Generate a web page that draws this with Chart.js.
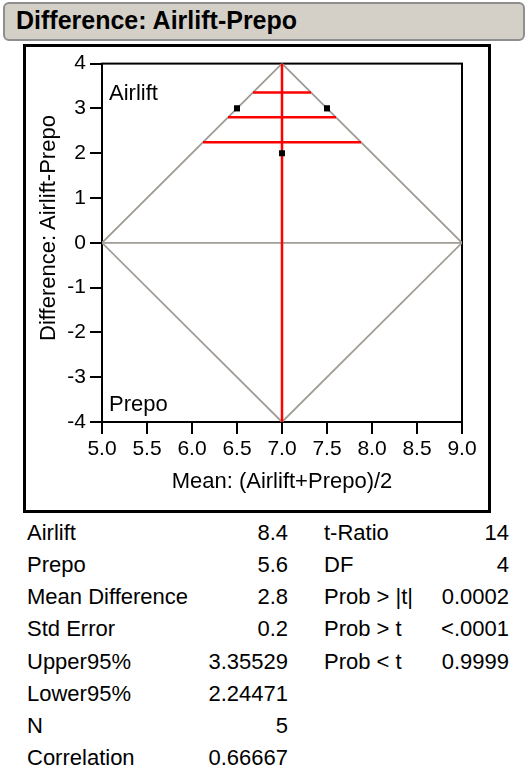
<!DOCTYPE html>
<html>
<head>
<meta charset="utf-8">
<script src="https://cdn.jsdelivr.net/npm/chart.js@4.4.1/dist/chart.umd.min.js"></script>
<style>
body { margin: 0; background: #fff; font-family: "Liberation Sans", Arial, sans-serif; color: #000; }
#head { position: absolute; left: 3px; top: 2px; width: 518px; height: 35px; background: #d4d0c8;
        border: 2px solid #8e8e8e; border-radius: 6px; }
#head span { position: absolute; left: 11px; top: 2px; font-weight: bold; font-size: 25px; }
#frame { position: absolute; left: 23px; top: 44px; width: 462px; height: 463px; border: 3px solid #000; }
#frame canvas { position: absolute; left: 0; top: 0; }
#ytitle { position: absolute; left: -102px; top: 216px; width: 300px; height: 24px; line-height: 24px;
          text-align: center; font-size: 22px; transform: rotate(-90deg); }
.st { position: absolute; font-size: 22px; line-height: 32.15px; white-space: nowrap; }
</style>
</head>
<body>
<div id="head"><span>Difference: Airlift-Prepo</span></div>
<div id="frame"><canvas id="pairChart" width="462" height="463"></canvas></div>
<div id="ytitle">Difference: Airlift-Prepo</div>
<div id="stats"></div>
<script>
// Данные: среднее пары и разность Airlift-Prepo
const meanXs = [6.5, 6.5, 7.5, 7.5, 7.0];
const diffYs = [3, 3, 3, 3, 2];
const meanDiff = 2.8;
const upper95 = 3.35529;
const lower95 = 2.24471;
const grandMean = 7.0;

// Повёрнутая рамка (ромб) и линия нуля
const diamondX = [5, 7, 9, 7, 5];
const diamondY = [0, 4, 0, -4, 0];
const xRange = [5, 9];
const yRange = [-4, 4];

// Таблица под графиком
const leftLabels = ['Airlift', 'Prepo', 'Mean Difference', 'Std Error', 'Upper95%', 'Lower95%', 'N', 'Correlation'];
const leftValues = ['8.4', '5.6', '2.8', '0.2', '3.35529', '2.24471', '5', '0.66667'];
const rightLabels = ['t-Ratio', 'DF', 'Prob > |t|', 'Prob > t', 'Prob < t'];
const rightValues = ['14', '4', '0.0002', '<.0001', '0.9999'];

const gray = '#a19c95';
const red = '#ff0000';

// Горизонтальная линия от одной стороны ромба до другой
function ciLine(y) {
    const half = (xRange[1] - xRange[0]) / 2 * (1 - Math.abs(y) / yRange[1]);
    return [{ x: grandMean - half, y: y }, { x: grandMean + half, y: y }];
}

function lineSet(data, color, width) {
    return { data: data, showLine: true, borderColor: color, borderWidth: width,
             pointRadius: 0, pointHoverRadius: 0, fill: false };
}

const frameBox = {
    id: 'frameBox',
    beforeDatasetsDraw(chart) {
        const { ctx, chartArea: a } = chart;
        ctx.save();
        ctx.strokeStyle = '#000';
        ctx.lineWidth = 2;
        ctx.strokeRect(a.left, a.top, a.right - a.left, a.bottom - a.top);
        ctx.restore();
    },
    afterDatasetsDraw(chart) {
        const { ctx, chartArea: a } = chart;
        ctx.save();
        ctx.fillStyle = '#000';
        ctx.font = '22px "Liberation Sans", Arial, sans-serif';
        ctx.textBaseline = 'alphabetic';
        ctx.fillText('Airlift', a.left + 7, a.top + 36);
        ctx.fillText('Prepo', a.left + 7, a.bottom - 11);
        ctx.restore();
    }
};

const tickFont = { family: '"Liberation Sans", Arial, sans-serif', size: 21 };
const titleFont = { family: '"Liberation Sans", Arial, sans-serif', size: 22 };

new Chart(document.getElementById('pairChart').getContext('2d'), {
    type: 'scatter',
    data: {
        datasets: [
            { data: meanXs.map((x, i) => ({ x: x, y: diffYs[i] })), pointStyle: 'rect',
              pointRadius: 4.2, backgroundColor: '#000', borderColor: '#000', borderWidth: 0 },
            lineSet(ciLine(upper95), red, 2.5),
            lineSet(ciLine(meanDiff), red, 2.5),
            lineSet(ciLine(lower95), red, 2.5),
            lineSet([{ x: grandMean, y: yRange[0] }, { x: grandMean, y: yRange[1] }], red, 2.5),
            lineSet(diamondX.map((x, i) => ({ x: x, y: diamondY[i] })), gray, 1.8),
            lineSet([{ x: xRange[0], y: 0 }, { x: xRange[1], y: 0 }], gray, 1.8)
        ]
    },
    options: {
        responsive: false,
        animation: false,
        layout: { padding: { left: 0, top: 15, right: 26, bottom: 15 } },
        plugins: { legend: { display: false }, tooltip: { enabled: false } },
        scales: {
            x: {
                type: 'linear', min: xRange[0], max: xRange[1],
                ticks: { stepSize: 0.5, color: '#000', font: tickFont, padding: 3,
                         maxRotation: 0, callback: v => v.toFixed(1) },
                grid: { drawOnChartArea: false, tickLength: 12, color: '#000', lineWidth: 2 },
                border: { color: '#000', width: 2 },
                title: { display: true, text: 'Mean: (Airlift+Prepo)/2', color: '#000', font: titleFont,
                         padding: 0 },
                afterFit: s => { s.height = 73; }
            },
            y: {
                type: 'linear', min: yRange[0], max: yRange[1],
                ticks: { stepSize: 1, color: '#000', font: tickFont, padding: 4 },
                grid: { drawOnChartArea: false, tickLength: 12, color: '#000', lineWidth: 2 },
                border: { color: '#000', width: 2 },
                afterFit: s => { s.width = 76; }
            }
        }
    },
    plugins: [frameBox]
});

// Таблица статистик
const stats = document.getElementById('stats');
function addCell(text, top, left, right) {
    const d = document.createElement('div');
    d.className = 'st';
    d.textContent = text;
    d.style.top = top + 'px';
    if (left !== null) d.style.left = left + 'px';
    else d.style.right = (529 - right) + 'px';
    stats.appendChild(d);
}
leftLabels.forEach((t, i) => addCell(t, 517 + i * 32.15, 27, null));
leftValues.forEach((t, i) => addCell(t, 517 + i * 32.15, null, 288));
rightLabels.forEach((t, i) => addCell(t, 517 + i * 32.15, 324, null));
rightValues.forEach((t, i) => addCell(t, 517 + i * 32.15, null, 509));
</script>
</body>
</html>
